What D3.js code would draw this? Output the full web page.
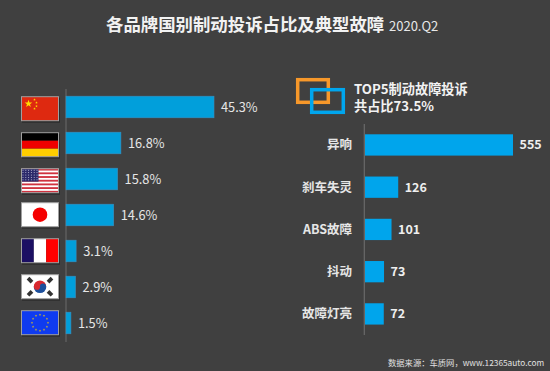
<!DOCTYPE html>
<html>
<head>
<meta charset="utf-8">
<script src="https://cdnjs.cloudflare.com/ajax/libs/d3/7.8.5/d3.min.js"></script>
<style>
  html, body { margin: 0; padding: 0; background: #404040; }
  text { font-family: "Noto Sans CJK SC", "Noto Sans", sans-serif; }
</style>
</head>
<body>
<div id="chart"></div>
<script>
//data
var countries = ['cn', 'de', 'us', 'jp', 'fr', 'kr', 'eu'];
var shareValues = [45.3, 16.8, 15.8, 14.6, 3.1, 2.9, 1.5];
var faults = ['异响', '刹车失灵', 'ABS故障', '抖动', '故障灯亮'];
var faultValues = [555, 126, 101, 73, 72];

var w = 550;
var h = 371;

var svg = d3.select('#chart')
  .append('svg')
  .attr('width', w)
  .attr('height', h)
  .style('display', 'block');

svg.append('rect')
  .attr('width', w)
  .attr('height', h)
  .attr('fill', '#404040');

//title
svg.append('text')
  .attr('x', 106)
  .attr('y', 31)
  .attr('fill', '#f2f2f2')
  .attr('font-size', 17.4)
  .attr('font-weight', 700)
  .text('各品牌国别制动投诉占比及典型故障');
svg.append('text')
  .attr('x', 389)
  .attr('y', 30.5)
  .attr('fill', '#e8e8e8')
  .attr('font-size', 13)
  .text('2020.Q2');

//left chart
var xLeft = d3.scaleLinear().domain([0, 45.3]).range([66, 214]);
var yLeft = d3.scaleBand()
  .domain(countries)
  .range([89, 341])
  .paddingInner(0.4)
  .paddingOuter(0.2);

svg.append('line')
  .attr('x1', 66).attr('x2', 66)
  .attr('y1', 89).attr('y2', 342)
  .attr('stroke', '#5c5c5c')
  .attr('stroke-width', 1.5);

svg.selectAll('rect.shareBar')
  .data(shareValues)
  .enter()
  .append('rect')
  .attr('class', 'shareBar')
  .attr('x', xLeft(0))
  .attr('y', function(d, i) { return yLeft(countries[i]); })
  .attr('width', function(d) { return xLeft(d) - xLeft(0); })
  .attr('height', yLeft.bandwidth())
  .attr('fill', '#019fdb')
  .attr('stroke', '#3b8fc0')
  .attr('stroke-width', 0.6);

svg.selectAll('text.shareLabel')
  .data(shareValues)
  .enter()
  .append('text')
  .attr('class', 'shareLabel')
  .attr('x', function(d) { return xLeft(d) + 7; })
  .attr('y', function(d, i) { return yLeft(countries[i]) + yLeft.bandwidth() / 2 + 4.5; })
  .attr('fill', '#e6e6e6')
  .attr('font-size', 12.8)
  .text(function(d) { return d.toFixed(1) + '%'; });

//flags
var flagW = 37;
var flagH = 24;

function star(g, cx, cy, r, fill) {
  var pts = d3.range(10).map(function(k) {
    var a = -Math.PI / 2 + k * Math.PI / 5;
    var rr = k % 2 ? r * 0.4 : r;
    return [cx + rr * Math.cos(a), cy + rr * Math.sin(a)];
  });
  g.append('polygon').attr('points', pts.join(' ')).attr('fill', fill);
}

var flagDraw = {
  cn: function(g) {
    g.append('rect').attr('width', flagW).attr('height', flagH).attr('fill', '#de2910');
    star(g, 7, 7, 4, '#ffde00');
    [[13, 3], [15, 6], [15, 9.5], [13, 12]].forEach(function(p) {
      star(g, p[0], p[1], 1.4, '#ffde00');
    });
  },
  de: function(g) {
    ['#000000', '#ee0000', '#ffce00'].forEach(function(c, i) {
      g.append('rect').attr('y', i * flagH / 3).attr('width', flagW).attr('height', flagH / 3).attr('fill', c);
    });
  },
  us: function(g) {
    g.append('rect').attr('width', flagW).attr('height', flagH).attr('fill', '#ffffff');
    d3.range(0, 13, 2).forEach(function(k) {
      g.append('rect').attr('y', k * flagH / 13).attr('width', flagW).attr('height', flagH / 13).attr('fill', '#d0323f');
    });
    g.append('rect').attr('width', 17).attr('height', flagH * 7 / 13).attr('fill', '#2b2a6b');
    d3.range(5).forEach(function(r) {
      d3.range(6).forEach(function(c) {
        g.append('circle').attr('cx', 1.5 + c * 2.8).attr('cy', 1.5 + r * 2.4).attr('r', 0.5).attr('fill', '#c9c9e0');
      });
    });
  },
  jp: function(g) {
    g.append('rect').attr('width', flagW).attr('height', flagH).attr('fill', '#ffffff');
    g.append('circle').attr('cx', flagW / 2).attr('cy', flagH / 2).attr('r', 7.3).attr('fill', '#f50000');
  },
  fr: function(g) {
    ['#1b0f63', '#ffffff', '#ff0000'].forEach(function(c, i) {
      g.append('rect').attr('x', i * flagW / 3).attr('width', flagW / 3).attr('height', flagH).attr('fill', c);
    });
  },
  kr: function(g) {
    g.append('rect').attr('width', flagW).attr('height', flagH).attr('fill', '#ffffff');
    var cx = flagW / 2;
    var cy = flagH / 2;
    g.append('path')
      .attr('d', 'M' + (cx - 6.3) + ',' + cy + 'A6.3,6.3 0 0 1 ' + (cx + 6.3) + ',' + cy + 'Z')
      .attr('fill', '#d8282f');
    g.append('path')
      .attr('d', 'M' + (cx - 6.3) + ',' + cy + 'A6.3,6.3 0 0 0 ' + (cx + 6.3) + ',' + cy + 'Z')
      .attr('fill', '#1c4f9c');
    g.append('circle').attr('cx', cx + 3).attr('cy', cy).attr('r', 3.1).attr('fill', '#1c4f9c');
    g.append('circle').attr('cx', cx - 3).attr('cy', cy).attr('r', 3.1).attr('fill', '#d8282f');
    [[-1, -1, 45], [1, -1, -45], [-1, 1, -45], [1, 1, 45]].forEach(function(p) {
      g.append('rect')
        .attr('x', -2.8).attr('y', -1.9)
        .attr('width', 5.6).attr('height', 3.8)
        .attr('fill', '#333333')
        .attr('transform', 'translate(' + (cx + p[0] * 10) + ',' + (cy + p[1] * 6.6) + ') rotate(' + p[2] + ')');
    });
  },
  eu: function(g) {
    g.append('rect').attr('width', flagW).attr('height', flagH).attr('fill', '#0f3bf0');
    d3.range(12).forEach(function(k) {
      var a = k * Math.PI / 6;
      star(g, flagW / 2 + 8 * Math.cos(a), flagH / 2 + 8 * Math.sin(a), 1.3, '#d6b82a');
    });
  }
};

//the first three flags sit level with their bars, the rest 2px higher
countries.forEach(function(c, i) {
  var top = yLeft(c) + 0.5 - (i < 3 ? 0 : 2);
  svg.append('rect')
    .attr('x', 22)
    .attr('y', top + 1)
    .attr('width', flagW + 1)
    .attr('height', flagH + 1)
    .attr('fill', '#2c2c2c');
  var g = svg.append('g')
    .attr('transform', 'translate(21.5,' + top + ')');
  flagDraw[c](g);
  g.append('rect')
    .attr('width', flagW)
    .attr('height', flagH)
    .attr('fill', 'none')
    .attr('stroke', '#a0a0a0')
    .attr('stroke-width', 1);
});

//legend icon
svg.append('rect').attr('x', 297.7).attr('y', 79.7).attr('width', 30.6).attr('height', 22.6)
  .attr('fill', 'none').attr('stroke', '#f7982a').attr('stroke-width', 3.5);
svg.append('rect').attr('x', 311.7).attr('y', 89.7).attr('width', 31.6).attr('height', 22.6)
  .attr('fill', 'none').attr('stroke', '#00a6ee').attr('stroke-width', 3.5);

var legendText = svg.append('text')
  .attr('fill', '#f2f2f2')
  .attr('font-size', 13.2)
  .attr('font-weight', 700);
legendText.append('tspan').attr('x', 354).attr('y', 94).text('TOP5制动故障投诉');
legendText.append('tspan').attr('x', 354).attr('y', 111).text('共占比73.5%');

//right chart
var xRight = d3.scaleLinear().domain([0, 555]).range([364.5, 513]);
var yRight = d3.scaleBand()
  .domain(faults)
  .range([124.16, 334.7])
  .paddingInner(0.496)
  .paddingOuter(0.24);

svg.append('line')
  .attr('x1', 364.3).attr('x2', 364.3)
  .attr('y1', 124).attr('y2', 335)
  .attr('stroke', '#6a6a6a')
  .attr('stroke-width', 1.2);

svg.selectAll('rect.faultBar')
  .data(faultValues)
  .enter()
  .append('rect')
  .attr('class', 'faultBar')
  .attr('x', xRight(0) + 0.5)
  .attr('y', function(d, i) { return yRight(faults[i]); })
  .attr('width', function(d) { return xRight(d) - xRight(0) - 0.5; })
  .attr('height', yRight.bandwidth())
  .attr('fill', '#00a5ec');

svg.selectAll('text.faultName')
  .data(faults)
  .enter()
  .append('text')
  .attr('class', 'faultName')
  .attr('x', 352)
  .attr('y', function(d) { return yRight(d) + yRight.bandwidth() / 2 + 4.5; })
  .attr('text-anchor', 'end')
  .attr('fill', '#e6e6e6')
  .attr('font-size', 12.5)
  .attr('font-weight', 700)
  .text(function(d) { return d; });

svg.selectAll('text.faultValue')
  .data(faultValues)
  .enter()
  .append('text')
  .attr('class', 'faultValue')
  .attr('x', function(d) { return xRight(d) + 6.5; })
  .attr('y', function(d, i) { return yRight(faults[i]) + yRight.bandwidth() / 2 + 4.5; })
  .attr('fill', '#efefef')
  .attr('font-size', 12.5)
  .attr('font-weight', 700)
  .text(function(d) { return d; });

//source
svg.append('text')
  .attr('x', 388).attr('y', 366)
  .attr('fill', '#e0e0e0').attr('font-size', 8.3)
  .text('数据来源：车质网，www.12365auto.com');
</script>
</body>
</html>
